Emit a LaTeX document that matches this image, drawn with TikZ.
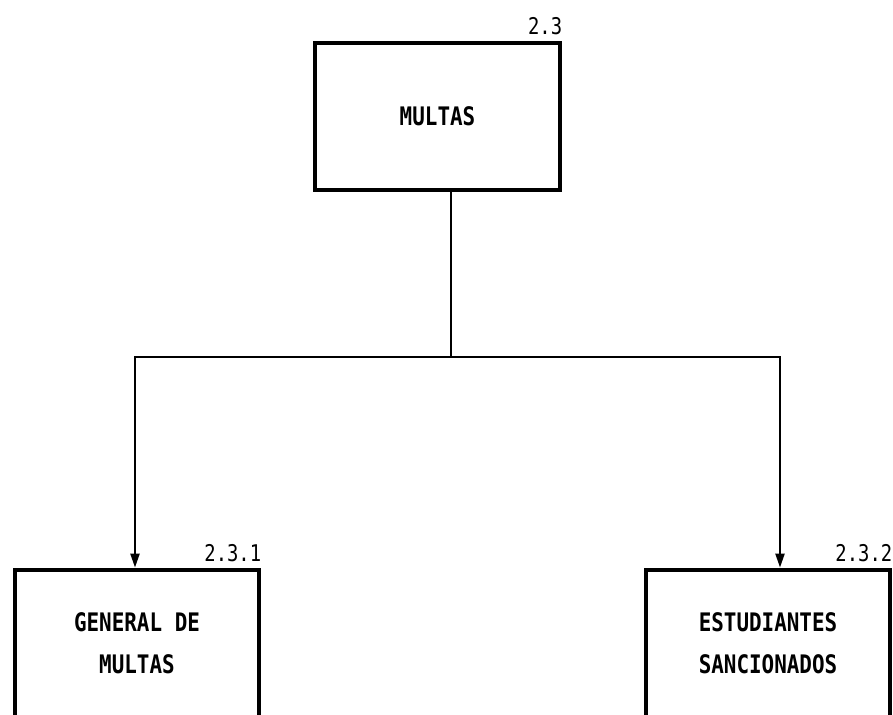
\documentclass[tikz,border=0pt]{standalone}
\usepackage{fontspec}
\newfontfamily\plotfont{DejaVu Sans Mono}[FakeStretch=0.82]
\usetikzlibrary{arrows.meta,positioning}

\begin{document}
\begin{tikzpicture}[
x=1pt, y=-1pt,
procbox/.style={draw, line width=4.8pt, align=center, inner sep=0pt, font=\plotfont\bfseries\fontsize{25.5}{42}\selectfont, minimum width=244pt, minimum height=147pt},
numtag/.style={anchor=south east, inner sep=0pt, yshift=6pt, font=\plotfont\fontsize{23}{26}\selectfont},
conn/.style={line width=2.2pt},
arr/.style={conn, -{Triangle[length=14pt, width=9pt]}}
]
\clip (0,0) rectangle (893,714);
\fill[white] (0,0) rectangle (893,714);
\node[procbox, minimum width=245pt] (multas) at (437.5,116.5) {MULTAS};
\node[procbox] (general) at (137,643.5) {GENERAL DE\\MULTAS};
\node[procbox] (sancion) at (768,643.5) {ESTUDIANTES\\SANCIONADOS};
\node[numtag] (tagmultas) at (multas.north east) {2.3};
\node[numtag] (taggeneral) at (general.north east) {2.3.1};
\node[numtag] (tagsancion) at (sancion.north east) {2.3.2};
% connectors
\coordinate (split) at (451,357);
\coordinate (dropL) at (135,357);
\coordinate (dropR) at (780,357);
\draw[conn] (multas.south -| split) -- (split);
\draw[arr] (split) -| (general.north -| dropL);
\draw[arr] (split) -| (sancion.north -| dropR);
\end{tikzpicture}
\end{document}
